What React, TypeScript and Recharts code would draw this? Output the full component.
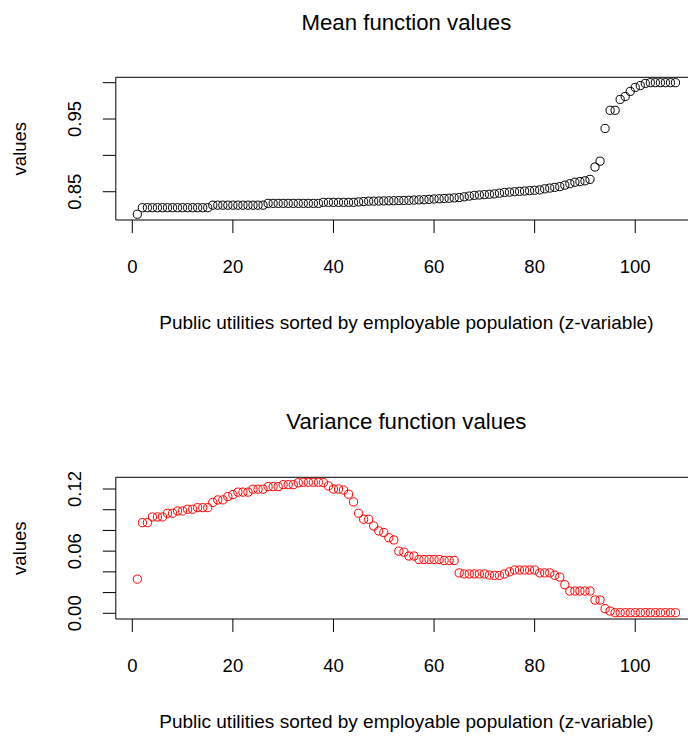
import React from "react";
import { ScatterChart, Scatter, XAxis, YAxis, ReferenceArea } from "recharts";

const xIndex = [
  1, 2, 3, 4, 5, 6, 7, 8, 9, 10, 11, 12, 13, 14, 15, 16, 17, 18, 19, 20,
  21, 22, 23, 24, 25, 26, 27, 28, 29, 30, 31, 32, 33, 34, 35, 36, 37, 38, 39, 40,
  41, 42, 43, 44, 45, 46, 47, 48, 49, 50, 51, 52, 53, 54, 55, 56, 57, 58, 59, 60,
  61, 62, 63, 64, 65, 66, 67, 68, 69, 70, 71, 72, 73, 74, 75, 76, 77, 78, 79, 80,
  81, 82, 83, 84, 85, 86, 87, 88, 89, 90, 91, 92, 93, 94, 95, 96, 97, 98, 99, 100,
  101, 102, 103, 104, 105, 106, 107, 108,
];

const meanValues = [
  0.819,
  0.828, 0.828, 0.828, 0.828, 0.828, 0.828, 0.828, 0.828, 0.828, 0.828, 0.828, 0.828, 0.828, 0.828,
  0.8315, 0.8315, 0.8315, 0.8315, 0.8315, 0.8315, 0.8315, 0.8315, 0.8315, 0.8315, 0.8315,
  0.834, 0.834, 0.834, 0.834, 0.834, 0.834, 0.834, 0.834, 0.834, 0.834, 0.834,
  0.8354, 0.8354, 0.8354, 0.8354, 0.8354, 0.8354, 0.8354,
  0.836, 0.8365, 0.837, 0.837, 0.8372, 0.8374, 0.8375, 0.8376, 0.8378, 0.838,
  0.8382, 0.8385, 0.8388, 0.839, 0.8395, 0.84, 0.8403, 0.8407, 0.841, 0.8415,
  0.842, 0.843, 0.844, 0.845, 0.8455, 0.846, 0.8465, 0.847, 0.848, 0.849,
  0.8495, 0.85, 0.8505, 0.851, 0.8515, 0.852, 0.8525, 0.854, 0.855, 0.856,
  0.857, 0.859, 0.861, 0.863, 0.864, 0.865, 0.867,
  0.884, 0.892, 0.937, 0.962, 0.962, 0.977, 0.981, 0.988, 0.9935, 0.996,
  0.999, 1.0, 1.0, 1.0, 1.0, 1.0, 1.0,
];

const varianceValues = [
  0.033, 0.0875, 0.0875, 0.093, 0.093, 0.093, 0.0966, 0.0966, 0.0988, 0.0988,
  0.1005, 0.1005, 0.102, 0.102, 0.102, 0.107, 0.1095, 0.1095, 0.1127, 0.1146,
  0.117, 0.117, 0.117, 0.1198, 0.1198, 0.1198, 0.1223, 0.1223, 0.1223, 0.1242,
  0.1242, 0.1242, 0.126, 0.1265, 0.1265, 0.1265, 0.1265, 0.1262, 0.123, 0.12,
  0.12, 0.119, 0.115, 0.1075, 0.0966, 0.0908, 0.0908, 0.0843, 0.0795, 0.078,
  0.073, 0.0708, 0.06, 0.059, 0.0553, 0.0553, 0.052, 0.052, 0.052, 0.052,
  0.052, 0.051, 0.051, 0.051, 0.039, 0.038, 0.038, 0.038, 0.038, 0.038,
  0.037, 0.0366, 0.0366, 0.038, 0.04, 0.0418, 0.0418, 0.0418, 0.0418, 0.0418,
  0.039, 0.039, 0.039, 0.0367, 0.035, 0.0276, 0.0215, 0.0215, 0.0215, 0.0215,
  0.0215, 0.0128, 0.0128, 0.0045, 0.0022, 0.0006, 0.0006, 0.0006, 0.0006, 0.0006,
  0.0006, 0.0006, 0.0006, 0.0006, 0.0006, 0.0006, 0.0006, 0.0006,
];

const xTicks = [0, 20, 40, 60, 80, 100];
const meanYTicks = [0.85, 0.9, 0.95, 1.0];
const meanYLabels = [0.85, 0.95];
const varYTicks = [0, 0.02, 0.04, 0.06, 0.08, 0.1, 0.12];
const varYLabels = [0, 0.06, 0.12];

const meanTitle = "Mean function values";
const varTitle = "Variance function values";
const xAxisTitle = "Public utilities sorted by employable population (z-variable)";
const yAxisTitle = "values";

const FONT = "'Liberation Sans', Arial, Helvetica, sans-serif";
const CHART_W = 712;
const CHART_H = 399;
const PLOT_LEFT = 115.8;
const PLOT_RIGHT = 697;
const PLOT_BOTTOM = 220;
const X_DOMAIN: [number, number] = [-3.28, 112.28];

type PanelProps = {
  values: number[];
  color: string;
  title: string;
  yDomain: [number, number];
  yTicks: number[];
  yLabels: number[];
  plotTop: number;
};

function Panel({ values, color, title, yDomain, yTicks, yLabels, plotTop }: PanelProps) {
  const data = xIndex.map((x, i) => ({ x, y: values[i] }));
  const centerX = (PLOT_LEFT + PLOT_RIGHT) / 2;
  const centerY = (plotTop + PLOT_BOTTOM) / 2;

  const XTick = (props: any) => (
    <text
      x={props.x}
      y={272.5}
      textAnchor="middle"
      fontFamily={FONT}
      fontSize={18.5}
      fill="#000"
    >
      {props.payload.value}
    </text>
  );

  const YTick = (props: any) => {
    const v = props.payload.value;
    if (!yLabels.some((l) => Math.abs(l - v) < 1e-9)) return <g />;
    const lx = 81.5;
    return (
      <text
        x={lx}
        y={props.y}
        transform={`rotate(-90 ${lx} ${props.y})`}
        textAnchor="middle"
        fontFamily={FONT}
        fontSize={18.5}
        fill="#000"
      >
        {Number(v).toFixed(2)}
      </text>
    );
  };

  return (
    <ScatterChart
      width={CHART_W}
      height={CHART_H}
      margin={{
        top: plotTop,
        right: CHART_W - PLOT_RIGHT,
        bottom: CHART_H - PLOT_BOTTOM - 30,
        left: PLOT_LEFT - 60,
      }}
    >
      <XAxis
        type="number"
        dataKey="x"
        domain={X_DOMAIN}
        allowDataOverflow
        ticks={xTicks}
        interval={0}
        height={30}
        tickSize={13}
        axisLine={false}
        tickLine={{ stroke: "#000", strokeWidth: 1 }}
        tick={XTick}
        label={{
          content: () => (
            <g>
              <text
                x={centerX}
                y={30}
                textAnchor="middle"
                fontFamily={FONT}
                fontSize={22.2}
                fill="#000"
              >
                {title}
              </text>
              <text
                x={centerX}
                y={328.5}
                textAnchor="middle"
                fontFamily={FONT}
                fontSize={19}
                fill="#000"
              >
                {xAxisTitle}
              </text>
            </g>
          ),
        }}
      />
      <YAxis
        type="number"
        dataKey="y"
        domain={yDomain}
        allowDataOverflow
        ticks={yTicks}
        interval={0}
        width={60}
        tickSize={13}
        axisLine={false}
        tickLine={{ stroke: "#000", strokeWidth: 1 }}
        tick={YTick}
        label={{
          content: () => (
            <text
              x={26.5}
              y={centerY}
              transform={`rotate(-90 26.5 ${centerY})`}
              textAnchor="middle"
              fontFamily={FONT}
              fontSize={18.5}
              fill="#000"
            >
              {yAxisTitle}
            </text>
          ),
        }}
      />
      <ReferenceArea
        x1={X_DOMAIN[0]}
        x2={X_DOMAIN[1]}
        y1={yDomain[0]}
        y2={yDomain[1]}
        fill="none"
        fillOpacity={0}
        stroke="#000"
        strokeWidth={1}
        ifOverflow="visible"
      />
      <Scatter
        data={data}
        isAnimationActive={false}
        shape={(p: any) => (
          <circle cx={p.cx} cy={p.cy} r={4.1} fill="none" stroke={color} strokeWidth={1} />
        )}
      />
    </ScatterChart>
  );
}

export default function App() {
  return (
    <div
      style={{
        position: "absolute",
        left: 0,
        top: 0,
        width: 688,
        height: 736,
        overflow: "hidden",
        background: "#fff",
      }}
    >
      <div style={{ position: "absolute", left: 0, top: 0 }}>
        <Panel
          values={meanValues}
          color="#000000"
          title={meanTitle}
          yDomain={[0.8111, 1.0074]}
          yTicks={meanYTicks}
          yLabels={meanYLabels}
          plotTop={77.3}
        />
      </div>
      <div style={{ position: "absolute", left: 0, top: 399 }}>
        <Panel
          values={varianceValues}
          color="#FF0000"
          title={varTitle}
          yDomain={[-0.0055, 0.1313]}
          yTicks={varYTicks}
          yLabels={varYLabels}
          plotTop={78.3}
        />
      </div>
    </div>
  );
}
